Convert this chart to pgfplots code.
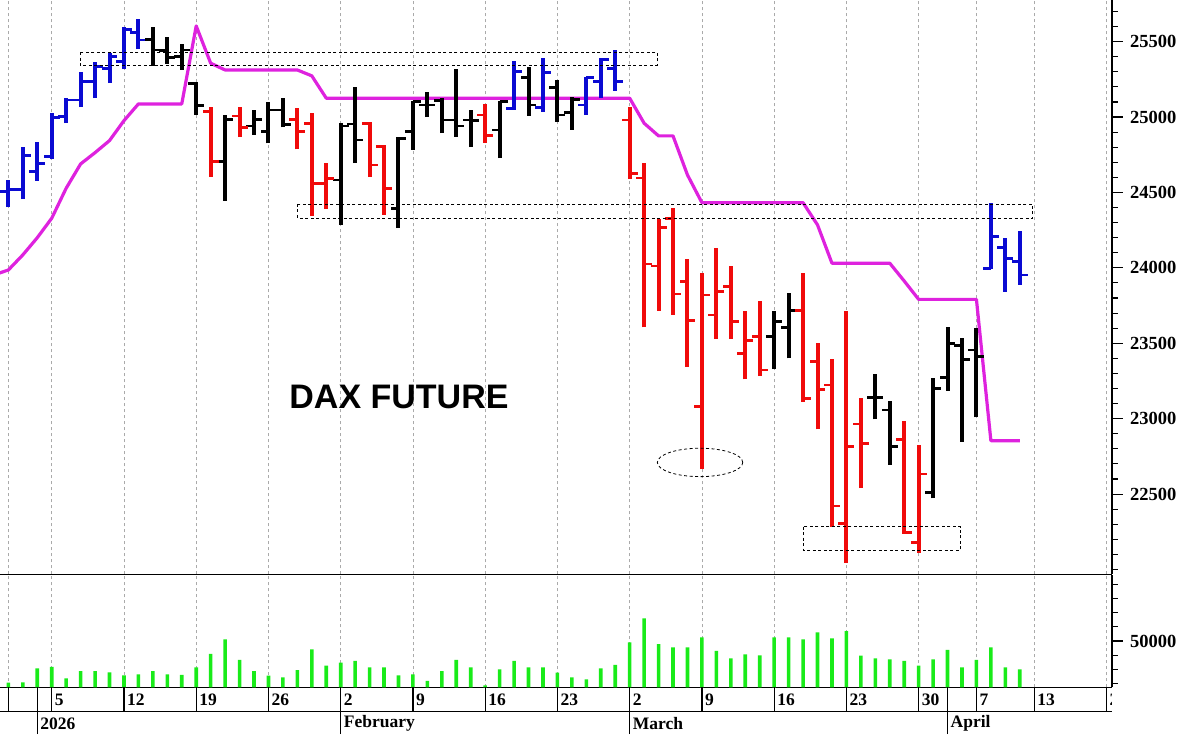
\documentclass[border=0pt]{standalone}
\usepackage{pgfplots}
\usepackage{pgfplotstable}
\pgfplotsset{compat=1.18}
\usepackage{fontspec}
\setmainfont{Liberation Serif}
\newfontfamily\arialfont{Liberation Sans}
\definecolor{barblue}{RGB}{10,10,210}
\definecolor{barred}{RGB}{240,10,10}
\definecolor{stopmag}{RGB}{222,34,222}
\definecolor{volgreen}{RGB}{25,235,25}
\definecolor{gridgray}{RGB}{170,170,170}

\pgfplotstableread{
i O H L C
-3 24505 24583 24402 24517
-2 24517 24804 24455 24744
-1 24638 24837 24578 24694
0 24737 25029 24720 24999
1 25003 25125 24959 25113
2 25113 25301 25065 25235
3 25235 25367 25125 25334
4 25324 25427 25224 25401
5 25367 25595 25317 25582
6 25560 25649 25450 25511
32 25058 25374 25047 25301
34 25065 25390 25036 25294
37 25080 25268 25014 25261
38 25235 25390 25125 25379
39 25324 25445 25175 25235
65 23997 24432 23991 24207
66 24137 24196 23842 24064
67 24041 24247 23887 23953
}\bluetab

\pgfplotstableread{
i O H L C
7 25516 25595 25339 25445
8 25440 25529 25352 25397
9 25401 25485 25312 25445
10 25224 25235 25014 25074
12 24704 25014 24446 24985
14 24941 25047 24881 24985
15 24903 25102 24826 25047
16 25047 25129 24932 24948
20 24583 24959 24285 24941
21 24954 25198 24694 24848
24 24395 24866 24263 24859
25 24903 25109 24782 25102
26 25080 25168 24999 25080
27 25109 25125 24893 24981
28 24981 25317 24870 24941
29 24981 25047 24800 24976
31 24914 25109 24727 25102
33 25264 25330 25007 25080
35 25198 25246 24970 25014
36 25029 25135 24915 25118
50 23544 23716 23328 23643
51 23606 23836 23400 23716
57 23142 23297 22996 23142
58 23058 23119 22693 22814
61 22509 23268 22472 23202
62 23275 23610 23186 23500
63 23483 23533 22848 23394
64 23456 23600 23009 23411
}\blacktab

\pgfplotstableread{
i O H L C
11 25036 25065 24605 24704
13 25007 25065 24866 24932
17 24985 25058 24786 24903
18 24959 25025 24344 24561
19 24561 24694 24389 24594
22 24959 24970 24601 24682
23 24804 24815 24351 24528
30 25014 25087 24830 24875
40 24981 25065 24588 24623
41 24596 24694 23606 24026
42 24013 24322 23716 24269
43 24329 24395 23688 23827
44 23909 24057 23345 23650
45 23080 23968 22665 23820
46 23688 24130 23527 23842
47 23875 24013 23527 23643
48 23434 23716 23261 23517
49 23544 23783 23283 23323
52 23716 23968 23113 23135
53 23378 23500 22930 23195
54 23224 23394 22284 22421
55 22307 23716 22045 22814
56 22965 23135 22539 22837
59 22863 22987 22236 22244
60 22178 22826 22112 22633
}\redtab

\pgfplotstableread{
i v
-4 23953
-3 23986
-2 24086
-1 24200
0 24329
1 24528
2 24689
3 24764
4 24844
5 24976
6 25087
7 25087
8 25087
9 25087
10 25604
11 25357
12 25312
13 25312
14 25312
15 25312
16 25312
17 25312
18 25273
19 25125
20 25125
25 25125
30 25125
35 25125
40 25125
41 24959
42 24875
43 24875
44 24616
45 24432
46 24432
50 24432
52 24432
53 24285
54 24031
55 24031
58 24031
59 23913
60 23791
62 23791
64 23791
65 22854
66 22854
67 22854
}\stoptab

\pgfplotstableread{
i v
-3 20400
-2 20600
-1 30640
0 31560
1 23550
2 28720
3 28720
4 27660
5 25670
6 26380
7 28720
8 26380
9 25890
10 31350
11 40780
12 51200
13 36530
14 28720
15 25390
16 24260
17 29430
18 44110
19 32480
20 34610
21 35820
22 31350
23 31350
24 25670
25 26380
26 21630
27 28720
28 36530
29 31350
30 18580
31 29930
32 35820
33 31350
34 31350
35 27520
36 24260
37 22840
38 30640
39 32980
40 49080
41 66100
42 47870
43 45530
44 45530
45 52620
46 42910
47 37730
48 40570
49 39860
50 52620
51 52620
52 51200
53 56170
54 51910
55 57090
56 39570
57 37730
58 37020
59 35820
60 32480
61 37020
62 43620
63 31350
64 36530
65 45530
66 31350
67 29930
}\voltab

\newcommand{\ohlc}[2]{%
  \addplot[#2, line width=4pt, quiver={u=0,v=\thisrow{H}-\thisrow{L}}] table[x=i,y=L]{#1};
  \addplot[#2, line width=2.8pt, quiver={u=-0.55,v=0}] table[x=i,y=O]{#1};
  \addplot[#2, line width=2.8pt, quiver={u=0.55,v=0}] table[x=i,y=C]{#1};
}

\pgfplotsset{
  dayaxis/.style={
    scale only axis, width=1112pt,
    xmin=-3.58, xmax=73.38,
    xtick={-3,0,5,10,15,20,25,30,35,40,45,50,55,60,64,68,73},
    xticklabels={},
    xtick style={draw=none},
    xmajorgrids=true,
    major grid style={gridgray, line width=0.8pt, dash pattern=on 3pt off 3pt},
    axis x line*=bottom, axis y line*=right,
    axis line style={black, line width=1.2pt, -},
    every outer x axis line/.append style={-},
    every outer y axis line/.append style={-},
    yticklabel pos=right,
    ytick align=outside,
    major tick length=11pt, minor tick length=6pt,
    ytick style={black, line width=1.1pt},
    minor tick style={black, line width=1.1pt},
    scaled y ticks=false,
    /pgf/number format/assume math mode=true,
    /pgf/number format/1000 sep={},
    /pgf/number format/fixed,
    yticklabel style={font=\bfseries\fontsize{18.5}{18.5}\selectfont, anchor=west, inner sep=0pt, xshift=7pt},
  }
}

\begin{document}
\begin{tikzpicture}
\useasboundingbox (0,0) rectangle (1183pt,734pt);

% price panel
\begin{axis}[dayaxis,
  at={(0pt,159.5pt)}, anchor=south west,
  height=574.5pt,
  ymin=21967, ymax=25776,
  ytick={22500,23000,23500,24000,24500,25000,25500},
  minor ytick={22000,22100,22200,22300,22400,22600,22700,22800,22900,23100,23200,23300,23400,23600,23700,23800,23900,24100,24200,24300,24400,24600,24700,24800,24900,25100,25200,25300,25400,25600,25700},
]
\addplot[stopmag, line width=3.2pt, line join=round] table[x=i,y=v]{\stoptab};
\ohlc{\bluetab}{barblue}
\ohlc{\blacktab}{black}
\ohlc{\redtab}{barred}
\draw[black, line width=0.8pt, dash pattern=on 3pt off 2.5pt] (axis cs:1.96,25430) rectangle (axis cs:41.9,25343);
\draw[black, line width=0.8pt, dash pattern=on 3pt off 2.5pt] (axis cs:17.02,24424) rectangle (axis cs:67.89,24329);
\draw[black, line width=0.8pt, dash pattern=on 3pt off 2.5pt] (axis cs:52.01,22284) rectangle (axis cs:62.91,22129);
\draw[black, line width=0.8pt, dash pattern=on 3pt off 2.5pt] (axis cs:44.87,22710) ellipse [x radius=42.7pt, y radius=14.2pt];
\end{axis}

% volume panel
\begin{axis}[dayaxis,
  at={(0pt,46.7pt)}, anchor=south west,
  height=112.8pt,
  ymin=17160, ymax=97160,
  ytick={50000},
  minor ytick={20000,30000,40000,60000,70000,80000,90000},
]
\addplot[ybar, bar width=3.6pt, fill=volgreen, draw=none] table[x=i,y=v]{\voltab};
\end{axis}

% date strip
\begin{axis}[
  at={(0pt,0pt)}, anchor=south west,
  scale only axis, width=1112pt, height=46.7pt,
  xmin=-3.58, xmax=73.38, ymin=0, ymax=46.7,
  axis lines=none, clip=true,
]
\draw[black, line width=1.2pt] (axis cs:-10,22.3) -- (axis cs:80,22.3);
% week separators (upper row)
\draw[black, line width=1.2pt] (axis cs:-5,22.3) -- (axis cs:-5,46.7);
\draw[black, line width=1.2pt] (axis cs:-3,22.3) -- (axis cs:-3,46.7);
\draw[black, line width=1.2pt] (axis cs:0,22.3) -- (axis cs:0,46.7);
\draw[black, line width=1.2pt] (axis cs:5,22.3) -- (axis cs:5,46.7);
\draw[black, line width=1.2pt] (axis cs:10,22.3) -- (axis cs:10,46.7);
\draw[black, line width=1.2pt] (axis cs:15,22.3) -- (axis cs:15,46.7);
\draw[black, line width=1.2pt] (axis cs:25,22.3) -- (axis cs:25,46.7);
\draw[black, line width=1.2pt] (axis cs:30,22.3) -- (axis cs:30,46.7);
\draw[black, line width=1.2pt] (axis cs:35,22.3) -- (axis cs:35,46.7);
\draw[black, line width=1.2pt] (axis cs:45,22.3) -- (axis cs:45,46.7);
\draw[black, line width=1.2pt] (axis cs:50,22.3) -- (axis cs:50,46.7);
\draw[black, line width=1.2pt] (axis cs:55,22.3) -- (axis cs:55,46.7);
\draw[black, line width=1.2pt] (axis cs:60,22.3) -- (axis cs:60,46.7);
\draw[black, line width=1.2pt] (axis cs:64,22.3) -- (axis cs:64,46.7);
\draw[black, line width=1.2pt] (axis cs:68,22.3) -- (axis cs:68,46.7);
\draw[black, line width=1.2pt] (axis cs:73,22.3) -- (axis cs:73,46.7);
% month separators (both rows)
\draw[black, line width=1.2pt] (axis cs:-1,0) -- (axis cs:-1,46.7);
\draw[black, line width=1.2pt] (axis cs:20,0) -- (axis cs:20,46.7);
\draw[black, line width=1.2pt] (axis cs:40,0) -- (axis cs:40,46.7);
\draw[black, line width=1.2pt] (axis cs:62,0) -- (axis cs:62,46.7);
% day labels
\begin{scope}[every node/.style={anchor=west, inner sep=0pt, xshift=3pt, font=\bfseries\fontsize{17.5}{18}\selectfont}]
\node at (axis cs:-5,34.5) {22};
\node at (axis cs:0,34.5) {5};
\node at (axis cs:5,34.5) {12};
\node at (axis cs:10,34.5) {19};
\node at (axis cs:15,34.5) {26};
\node at (axis cs:20,34.5) {2};
\node at (axis cs:25,34.5) {9};
\node at (axis cs:30,34.5) {16};
\node at (axis cs:35,34.5) {23};
\node at (axis cs:40,34.5) {2};
\node at (axis cs:45,34.5) {9};
\node at (axis cs:50,34.5) {16};
\node at (axis cs:55,34.5) {23};
\node at (axis cs:60,34.5) {30};
\node at (axis cs:64,34.5) {7};
\node at (axis cs:68,34.5) {13};
\node at (axis cs:73,34.5) {20};
\node at (axis cs:-1,10.5) {2026};
\node at (axis cs:20,10.5) {February};
\node at (axis cs:40,10.5) {March};
\node at (axis cs:62,10.5) {April};
\end{scope}
\end{axis}

\node[font=\arialfont\bfseries\fontsize{34}{34}\selectfont, inner sep=0pt] at (399pt,336.8pt) {DAX FUTURE};
\end{tikzpicture}
\end{document}
